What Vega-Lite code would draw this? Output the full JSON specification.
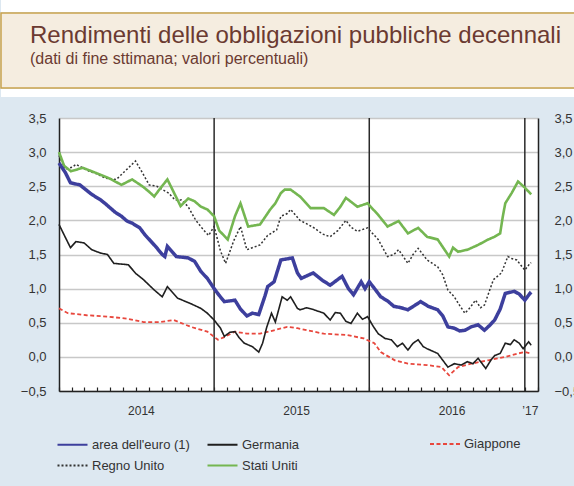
{
  "$schema": "https://vega.github.io/schema/vega-lite/v6.json",
  "background": "#dde8f1",
  "padding": {"left": 0, "top": 0, "right": 6, "bottom": 30},
  "config": {
    "view": {"stroke": null},
    "font": "Liberation Sans",
    "legend": {
      "labelFont": "Liberation Sans",
      "labelFontSize": 13,
      "labelColor": "#333333",
      "symbolType": "M-1.5,0H1.5",
      "symbolSize": 400,
      "labelOffset": 8,
      "padding": 0
    }
  },
  "resolve": {"legend": {"color": "independent", "stroke": "independent", "strokeDash": "independent"}},
  "concat": [
    {
      "width": 574,
      "height": 12,
      "view": {"fill": "white", "stroke": null},
      "data": {"values": [{"t": ""}]},
      "mark": {"type": "text", "fontSize": 1},
      "encoding": {"text": {"field": "t"}}
    },
    {
      "width": 574,
      "height": 75,
      "view": {"fill": "#f5ede0", "stroke": "#c9a24c", "strokeWidth": 1.5},
      "title": {
        "text": "Rendimenti delle obbligazioni pubbliche decennali",
        "subtitle": "(dati di fine sttimana; valori percentuali)",
        "anchor": "start",
        "frame": "group",
        "orient": "top",
        "offset": -54,
        "dx": 29,
        "font": "Liberation Sans",
        "fontSize": 24,
        "fontWeight": "normal",
        "color": "#6b3a31",
        "subtitleFont": "Liberation Sans",
        "subtitleFontSize": 16,
        "subtitleColor": "#6b3a31",
        "subtitlePadding": 3
      },
      "data": {"values": [{"t": ""}]},
      "mark": {"type": "text", "fontSize": 1},
      "encoding": {"text": {"field": "t"}}
    },
    {
      "width": 574,
      "height": 8,
      "view": {"fill": "white", "stroke": null},
      "data": {"values": [{"t": ""}]},
      "mark": {"type": "text", "fontSize": 1},
      "encoding": {"text": {"field": "t"}}
    },
    {
      "spacing": 0,
      "resolve": {"legend": {"color": "independent", "stroke": "independent", "strokeDash": "independent"}},
      "hconcat": [
        {
          "width": 1,
          "height": 1,
          "view": {"stroke": null},
          "data": {"values": [{"t": ""}]},
          "mark": {"type": "text", "fontSize": 1},
          "encoding": {"text": {"field": "t"}}
        },
        {
          "width": 479,
          "height": 273,
          "view": {"fill": "white", "stroke": null},
          "data": {"values": [
            {"s":"Regno Unito","d":"2014-01-01","v":2.95},{"s":"Regno Unito","d":"2014-01-16","v":2.75},{"s":"Regno Unito","d":"2014-02-01","v":2.78},{"s":"Regno Unito","d":"2014-02-10","v":2.82},{"s":"Regno Unito","d":"2014-03-13","v":2.72},{"s":"Regno Unito","d":"2014-04-01","v":2.68},{"s":"Regno Unito","d":"2014-04-19","v":2.62},{"s":"Regno Unito","d":"2014-05-16","v":2.60},{"s":"Regno Unito","d":"2014-06-10","v":2.75},{"s":"Regno Unito","d":"2014-06-30","v":2.87},{"s":"Regno Unito","d":"2014-07-16","v":2.70},{"s":"Regno Unito","d":"2014-08-01","v":2.52},{"s":"Regno Unito","d":"2014-08-19","v":2.50},{"s":"Regno Unito","d":"2014-09-16","v":2.40},{"s":"Regno Unito","d":"2014-10-01","v":2.30},{"s":"Regno Unito","d":"2014-10-16","v":2.30},{"s":"Regno Unito","d":"2014-11-01","v":2.20},{"s":"Regno Unito","d":"2014-11-19","v":2.00},{"s":"Regno Unito","d":"2014-12-07","v":1.86},{"s":"Regno Unito","d":"2014-12-19","v":1.78},{"s":"Regno Unito","d":"2015-01-01","v":1.91},{"s":"Regno Unito","d":"2015-01-16","v":1.55},{"s":"Regno Unito","d":"2015-01-28","v":1.37},{"s":"Regno Unito","d":"2015-02-16","v":1.70},{"s":"Regno Unito","d":"2015-03-04","v":1.91},{"s":"Regno Unito","d":"2015-03-19","v":1.57},{"s":"Regno Unito","d":"2015-04-19","v":1.64},{"s":"Regno Unito","d":"2015-05-07","v":1.78},{"s":"Regno Unito","d":"2015-05-28","v":1.86},{"s":"Regno Unito","d":"2015-06-07","v":2.06},{"s":"Regno Unito","d":"2015-06-22","v":2.10},{"s":"Regno Unito","d":"2015-06-30","v":2.16},{"s":"Regno Unito","d":"2015-07-22","v":2.00},{"s":"Regno Unito","d":"2015-08-07","v":1.95},{"s":"Regno Unito","d":"2015-08-24","v":1.89},{"s":"Regno Unito","d":"2015-09-13","v":1.80},{"s":"Regno Unito","d":"2015-10-01","v":1.76},{"s":"Regno Unito","d":"2015-10-19","v":1.85},{"s":"Regno Unito","d":"2015-11-07","v":2.00},{"s":"Regno Unito","d":"2015-11-19","v":1.90},{"s":"Regno Unito","d":"2015-12-04","v":1.84},{"s":"Regno Unito","d":"2015-12-28","v":1.89},{"s":"Regno Unito","d":"2016-01-10","v":1.80},{"s":"Regno Unito","d":"2016-01-22","v":1.72},{"s":"Regno Unito","d":"2016-02-13","v":1.47},{"s":"Regno Unito","d":"2016-02-28","v":1.50},{"s":"Regno Unito","d":"2016-03-10","v":1.57},{"s":"Regno Unito","d":"2016-04-01","v":1.37},{"s":"Regno Unito","d":"2016-04-13","v":1.50},{"s":"Regno Unito","d":"2016-04-25","v":1.59},{"s":"Regno Unito","d":"2016-05-16","v":1.42},{"s":"Regno Unito","d":"2016-06-10","v":1.32},{"s":"Regno Unito","d":"2016-06-22","v":1.20},{"s":"Regno Unito","d":"2016-07-04","v":0.98},{"s":"Regno Unito","d":"2016-07-19","v":0.88},{"s":"Regno Unito","d":"2016-08-01","v":0.75},{"s":"Regno Unito","d":"2016-08-13","v":0.64},{"s":"Regno Unito","d":"2016-08-25","v":0.72},{"s":"Regno Unito","d":"2016-09-07","v":0.83},{"s":"Regno Unito","d":"2016-09-19","v":0.72},{"s":"Regno Unito","d":"2016-09-28","v":0.76},{"s":"Regno Unito","d":"2016-10-19","v":1.13},{"s":"Regno Unito","d":"2016-11-07","v":1.23},{"s":"Regno Unito","d":"2016-11-22","v":1.47},{"s":"Regno Unito","d":"2016-12-01","v":1.44},{"s":"Regno Unito","d":"2016-12-13","v":1.42},{"s":"Regno Unito","d":"2017-01-01","v":1.27},{"s":"Regno Unito","d":"2017-01-13","v":1.37},{"s":"Regno Unito","d":"2017-01-16","v":1.38},
            {"s":"Germania","d":"2014-01-01","v":1.94},{"s":"Germania","d":"2014-01-16","v":1.75},{"s":"Germania","d":"2014-01-28","v":1.60},{"s":"Germania","d":"2014-02-10","v":1.69},{"s":"Germania","d":"2014-03-01","v":1.67},{"s":"Germania","d":"2014-03-19","v":1.57},{"s":"Germania","d":"2014-04-09","v":1.52},{"s":"Germania","d":"2014-04-25","v":1.50},{"s":"Germania","d":"2014-05-10","v":1.37},{"s":"Germania","d":"2014-06-13","v":1.35},{"s":"Germania","d":"2014-07-01","v":1.22},{"s":"Germania","d":"2014-07-19","v":1.13},{"s":"Germania","d":"2014-08-13","v":0.98},{"s":"Germania","d":"2014-09-01","v":0.88},{"s":"Germania","d":"2014-09-13","v":1.03},{"s":"Germania","d":"2014-10-07","v":0.86},{"s":"Germania","d":"2014-11-07","v":0.78},{"s":"Germania","d":"2014-12-01","v":0.71},{"s":"Germania","d":"2014-12-16","v":0.64},{"s":"Germania","d":"2015-01-01","v":0.54},{"s":"Germania","d":"2015-01-16","v":0.42},{"s":"Germania","d":"2015-01-25","v":0.30},{"s":"Germania","d":"2015-02-07","v":0.36},{"s":"Germania","d":"2015-02-19","v":0.37},{"s":"Germania","d":"2015-03-01","v":0.28},{"s":"Germania","d":"2015-03-13","v":0.20},{"s":"Germania","d":"2015-04-01","v":0.15},{"s":"Germania","d":"2015-04-16","v":0.07},{"s":"Germania","d":"2015-04-25","v":0.20},{"s":"Germania","d":"2015-05-05","v":0.44},{"s":"Germania","d":"2015-05-16","v":0.64},{"s":"Germania","d":"2015-05-25","v":0.51},{"s":"Germania","d":"2015-06-10","v":0.88},{"s":"Germania","d":"2015-06-22","v":0.83},{"s":"Germania","d":"2015-06-30","v":0.88},{"s":"Germania","d":"2015-07-16","v":0.71},{"s":"Germania","d":"2015-07-22","v":0.69},{"s":"Germania","d":"2015-08-07","v":0.72},{"s":"Germania","d":"2015-08-24","v":0.69},{"s":"Germania","d":"2015-09-16","v":0.64},{"s":"Germania","d":"2015-10-01","v":0.54},{"s":"Germania","d":"2015-10-13","v":0.65},{"s":"Germania","d":"2015-10-25","v":0.64},{"s":"Germania","d":"2015-11-07","v":0.52},{"s":"Germania","d":"2015-11-19","v":0.49},{"s":"Germania","d":"2015-12-04","v":0.64},{"s":"Germania","d":"2015-12-16","v":0.55},{"s":"Germania","d":"2015-12-28","v":0.59},{"s":"Germania","d":"2016-01-10","v":0.45},{"s":"Germania","d":"2016-01-22","v":0.34},{"s":"Germania","d":"2016-02-07","v":0.27},{"s":"Germania","d":"2016-02-22","v":0.25},{"s":"Germania","d":"2016-03-07","v":0.15},{"s":"Germania","d":"2016-03-19","v":0.20},{"s":"Germania","d":"2016-04-01","v":0.10},{"s":"Germania","d":"2016-04-13","v":0.20},{"s":"Germania","d":"2016-04-25","v":0.25},{"s":"Germania","d":"2016-05-07","v":0.15},{"s":"Germania","d":"2016-05-16","v":0.12},{"s":"Germania","d":"2016-06-10","v":0.05},{"s":"Germania","d":"2016-06-22","v":-0.05},{"s":"Germania","d":"2016-07-04","v":-0.15},{"s":"Germania","d":"2016-07-19","v":-0.10},{"s":"Germania","d":"2016-08-04","v":-0.12},{"s":"Germania","d":"2016-08-19","v":-0.07},{"s":"Germania","d":"2016-09-01","v":-0.10},{"s":"Germania","d":"2016-09-13","v":-0.02},{"s":"Germania","d":"2016-10-01","v":-0.17},{"s":"Germania","d":"2016-10-13","v":-0.05},{"s":"Germania","d":"2016-10-22","v":0.02},{"s":"Germania","d":"2016-11-04","v":0.05},{"s":"Germania","d":"2016-11-16","v":0.20},{"s":"Germania","d":"2016-11-28","v":0.18},{"s":"Germania","d":"2016-12-07","v":0.25},{"s":"Germania","d":"2016-12-19","v":0.20},{"s":"Germania","d":"2016-12-28","v":0.12},{"s":"Germania","d":"2017-01-10","v":0.22},{"s":"Germania","d":"2017-01-16","v":0.17},
            {"s":"Stati Uniti","d":"2014-01-01","v":3.00},{"s":"Stati Uniti","d":"2014-01-13","v":2.80},{"s":"Stati Uniti","d":"2014-01-29","v":2.72},{"s":"Stati Uniti","d":"2014-02-26","v":2.77},{"s":"Stati Uniti","d":"2014-03-27","v":2.70},{"s":"Stati Uniti","d":"2014-04-28","v":2.62},{"s":"Stati Uniti","d":"2014-05-16","v":2.56},{"s":"Stati Uniti","d":"2014-05-28","v":2.52},{"s":"Stati Uniti","d":"2014-06-22","v":2.60},{"s":"Stati Uniti","d":"2014-07-16","v":2.50},{"s":"Stati Uniti","d":"2014-08-01","v":2.42},{"s":"Stati Uniti","d":"2014-08-13","v":2.35},{"s":"Stati Uniti","d":"2014-08-25","v":2.45},{"s":"Stati Uniti","d":"2014-09-13","v":2.60},{"s":"Stati Uniti","d":"2014-09-25","v":2.45},{"s":"Stati Uniti","d":"2014-10-14","v":2.21},{"s":"Stati Uniti","d":"2014-11-01","v":2.32},{"s":"Stati Uniti","d":"2014-11-16","v":2.28},{"s":"Stati Uniti","d":"2014-12-01","v":2.20},{"s":"Stati Uniti","d":"2014-12-16","v":2.16},{"s":"Stati Uniti","d":"2015-01-01","v":2.06},{"s":"Stati Uniti","d":"2015-01-13","v":1.85},{"s":"Stati Uniti","d":"2015-02-02","v":1.72},{"s":"Stati Uniti","d":"2015-02-19","v":2.06},{"s":"Stati Uniti","d":"2015-03-04","v":2.25},{"s":"Stati Uniti","d":"2015-03-22","v":1.91},{"s":"Stati Uniti","d":"2015-04-19","v":1.94},{"s":"Stati Uniti","d":"2015-05-13","v":2.16},{"s":"Stati Uniti","d":"2015-05-25","v":2.25},{"s":"Stati Uniti","d":"2015-06-07","v":2.40},{"s":"Stati Uniti","d":"2015-06-16","v":2.45},{"s":"Stati Uniti","d":"2015-06-30","v":2.45},{"s":"Stati Uniti","d":"2015-07-22","v":2.35},{"s":"Stati Uniti","d":"2015-08-16","v":2.18},{"s":"Stati Uniti","d":"2015-09-16","v":2.18},{"s":"Stati Uniti","d":"2015-10-10","v":2.08},{"s":"Stati Uniti","d":"2015-10-25","v":2.20},{"s":"Stati Uniti","d":"2015-11-07","v":2.33},{"s":"Stati Uniti","d":"2015-12-04","v":2.20},{"s":"Stati Uniti","d":"2015-12-28","v":2.25},{"s":"Stati Uniti","d":"2016-01-22","v":2.08},{"s":"Stati Uniti","d":"2016-02-13","v":1.91},{"s":"Stati Uniti","d":"2016-03-10","v":1.99},{"s":"Stati Uniti","d":"2016-04-01","v":1.81},{"s":"Stati Uniti","d":"2016-04-25","v":1.89},{"s":"Stati Uniti","d":"2016-05-16","v":1.76},{"s":"Stati Uniti","d":"2016-06-10","v":1.72},{"s":"Stati Uniti","d":"2016-07-07","v":1.47},{"s":"Stati Uniti","d":"2016-07-16","v":1.60},{"s":"Stati Uniti","d":"2016-07-28","v":1.54},{"s":"Stati Uniti","d":"2016-08-19","v":1.57},{"s":"Stati Uniti","d":"2016-09-13","v":1.64},{"s":"Stati Uniti","d":"2016-10-07","v":1.72},{"s":"Stati Uniti","d":"2016-10-22","v":1.76},{"s":"Stati Uniti","d":"2016-11-04","v":1.81},{"s":"Stati Uniti","d":"2016-11-10","v":2.05},{"s":"Stati Uniti","d":"2016-11-16","v":2.25},{"s":"Stati Uniti","d":"2016-12-01","v":2.40},{"s":"Stati Uniti","d":"2016-12-16","v":2.57},{"s":"Stati Uniti","d":"2017-01-01","v":2.48},{"s":"Stati Uniti","d":"2017-01-16","v":2.38},
            {"s":"area dell'euro (1)","d":"2014-01-01","v":2.84},{"s":"area dell'euro (1)","d":"2014-01-16","v":2.70},{"s":"area dell'euro (1)","d":"2014-01-28","v":2.55},{"s":"area dell'euro (1)","d":"2014-02-19","v":2.52},{"s":"area dell'euro (1)","d":"2014-03-19","v":2.38},{"s":"area dell'euro (1)","d":"2014-04-09","v":2.30},{"s":"area dell'euro (1)","d":"2014-04-19","v":2.25},{"s":"area dell'euro (1)","d":"2014-05-13","v":2.12},{"s":"area dell'euro (1)","d":"2014-05-28","v":2.06},{"s":"area dell'euro (1)","d":"2014-06-10","v":1.99},{"s":"area dell'euro (1)","d":"2014-06-22","v":1.96},{"s":"area dell'euro (1)","d":"2014-07-10","v":1.89},{"s":"area dell'euro (1)","d":"2014-07-22","v":1.79},{"s":"area dell'euro (1)","d":"2014-08-16","v":1.62},{"s":"area dell'euro (1)","d":"2014-09-01","v":1.50},{"s":"area dell'euro (1)","d":"2014-09-07","v":1.47},{"s":"area dell'euro (1)","d":"2014-09-13","v":1.62},{"s":"area dell'euro (1)","d":"2014-10-04","v":1.47},{"s":"area dell'euro (1)","d":"2014-11-01","v":1.45},{"s":"area dell'euro (1)","d":"2014-11-16","v":1.40},{"s":"area dell'euro (1)","d":"2014-12-01","v":1.25},{"s":"area dell'euro (1)","d":"2014-12-16","v":1.15},{"s":"area dell'euro (1)","d":"2015-01-01","v":1.00},{"s":"area dell'euro (1)","d":"2015-01-13","v":0.90},{"s":"area dell'euro (1)","d":"2015-01-25","v":0.81},{"s":"area dell'euro (1)","d":"2015-02-19","v":0.83},{"s":"area dell'euro (1)","d":"2015-03-04","v":0.70},{"s":"area dell'euro (1)","d":"2015-03-19","v":0.60},{"s":"area dell'euro (1)","d":"2015-04-01","v":0.64},{"s":"area dell'euro (1)","d":"2015-04-16","v":0.62},{"s":"area dell'euro (1)","d":"2015-05-01","v":0.90},{"s":"area dell'euro (1)","d":"2015-05-07","v":1.03},{"s":"area dell'euro (1)","d":"2015-05-22","v":1.10},{"s":"area dell'euro (1)","d":"2015-06-07","v":1.42},{"s":"area dell'euro (1)","d":"2015-07-04","v":1.45},{"s":"area dell'euro (1)","d":"2015-07-16","v":1.23},{"s":"area dell'euro (1)","d":"2015-07-25","v":1.15},{"s":"area dell'euro (1)","d":"2015-08-22","v":1.23},{"s":"area dell'euro (1)","d":"2015-09-13","v":1.12},{"s":"area dell'euro (1)","d":"2015-10-01","v":1.05},{"s":"area dell'euro (1)","d":"2015-10-16","v":1.12},{"s":"area dell'euro (1)","d":"2015-10-29","v":1.18},{"s":"area dell'euro (1)","d":"2015-11-13","v":1.00},{"s":"area dell'euro (1)","d":"2015-11-25","v":0.91},{"s":"area dell'euro (1)","d":"2015-12-13","v":1.10},{"s":"area dell'euro (1)","d":"2015-12-22","v":1.00},{"s":"area dell'euro (1)","d":"2016-01-01","v":1.10},{"s":"area dell'euro (1)","d":"2016-01-16","v":0.98},{"s":"area dell'euro (1)","d":"2016-01-28","v":0.88},{"s":"area dell'euro (1)","d":"2016-02-13","v":0.82},{"s":"area dell'euro (1)","d":"2016-02-28","v":0.74},{"s":"area dell'euro (1)","d":"2016-03-16","v":0.72},{"s":"area dell'euro (1)","d":"2016-04-01","v":0.69},{"s":"area dell'euro (1)","d":"2016-04-16","v":0.75},{"s":"area dell'euro (1)","d":"2016-05-01","v":0.81},{"s":"area dell'euro (1)","d":"2016-05-19","v":0.74},{"s":"area dell'euro (1)","d":"2016-06-10","v":0.69},{"s":"area dell'euro (1)","d":"2016-06-22","v":0.60},{"s":"area dell'euro (1)","d":"2016-07-04","v":0.44},{"s":"area dell'euro (1)","d":"2016-07-19","v":0.42},{"s":"area dell'euro (1)","d":"2016-08-01","v":0.38},{"s":"area dell'euro (1)","d":"2016-08-13","v":0.39},{"s":"area dell'euro (1)","d":"2016-08-28","v":0.44},{"s":"area dell'euro (1)","d":"2016-09-13","v":0.47},{"s":"area dell'euro (1)","d":"2016-09-28","v":0.39},{"s":"area dell'euro (1)","d":"2016-10-10","v":0.46},{"s":"area dell'euro (1)","d":"2016-10-22","v":0.54},{"s":"area dell'euro (1)","d":"2016-11-04","v":0.70},{"s":"area dell'euro (1)","d":"2016-11-16","v":0.93},{"s":"area dell'euro (1)","d":"2016-12-07","v":0.96},{"s":"area dell'euro (1)","d":"2016-12-19","v":0.92},{"s":"area dell'euro (1)","d":"2017-01-01","v":0.83},{"s":"area dell'euro (1)","d":"2017-01-13","v":0.93},{"s":"area dell'euro (1)","d":"2017-01-16","v":0.91},
            {"s":"Giappone","d":"2014-01-01","v":0.71},{"s":"Giappone","d":"2014-01-22","v":0.64},{"s":"Giappone","d":"2014-03-07","v":0.61},{"s":"Giappone","d":"2014-04-25","v":0.59},{"s":"Giappone","d":"2014-06-10","v":0.56},{"s":"Giappone","d":"2014-07-19","v":0.51},{"s":"Giappone","d":"2014-08-28","v":0.51},{"s":"Giappone","d":"2014-09-28","v":0.54},{"s":"Giappone","d":"2014-11-07","v":0.44},{"s":"Giappone","d":"2014-12-16","v":0.37},{"s":"Giappone","d":"2015-01-10","v":0.25},{"s":"Giappone","d":"2015-01-25","v":0.29},{"s":"Giappone","d":"2015-02-19","v":0.37},{"s":"Giappone","d":"2015-03-19","v":0.34},{"s":"Giappone","d":"2015-04-19","v":0.34},{"s":"Giappone","d":"2015-05-22","v":0.39},{"s":"Giappone","d":"2015-06-22","v":0.44},{"s":"Giappone","d":"2015-07-16","v":0.42},{"s":"Giappone","d":"2015-08-07","v":0.39},{"s":"Giappone","d":"2015-09-16","v":0.34},{"s":"Giappone","d":"2015-11-10","v":0.32},{"s":"Giappone","d":"2015-12-19","v":0.27},{"s":"Giappone","d":"2016-01-13","v":0.20},{"s":"Giappone","d":"2016-01-28","v":0.07},{"s":"Giappone","d":"2016-03-01","v":-0.05},{"s":"Giappone","d":"2016-04-01","v":-0.10},{"s":"Giappone","d":"2016-05-16","v":-0.12},{"s":"Giappone","d":"2016-06-19","v":-0.15},{"s":"Giappone","d":"2016-07-07","v":-0.27},{"s":"Giappone","d":"2016-07-28","v":-0.15},{"s":"Giappone","d":"2016-08-28","v":-0.10},{"s":"Giappone","d":"2016-10-07","v":-0.05},{"s":"Giappone","d":"2016-11-16","v":0.00},{"s":"Giappone","d":"2016-12-16","v":0.05},{"s":"Giappone","d":"2017-01-01","v":0.07},{"s":"Giappone","d":"2017-01-16","v":0.05}
          ]},
          "encoding": {
            "x": {
              "field": "d",
              "type": "temporal",
              "title": null,
              "scale": {"type": "utc", "domain": [{"year": 2014, "month": 1, "date": 1, "utc": true}, {"year": 2017, "month": 2, "date": 1, "utc": true}], "nice": false},
              "axis": {
                "title": null,
                "tickCount": {"interval": "month", "step": 1},
                "ticks": true,
                "tickSize": -4,
                "tickWidth": 1.2,
                "tickColor": "#222222",
                "domainColor": "#222222",
                "domainWidth": 1.5,
                "grid": false,
                "labelExpr": "utcmonth(datum.value) == 6 ? utcFormat(datum.value, '%Y') : ((utcyear(datum.value) == 2017 && utcmonth(datum.value) == 0) ? '\u201917' : '')",
                "labelOffset": 5,
                "labelPadding": 18,
                "labelFontSize": 12,
                "labelColor": "#333333",
                "labelOverlap": false,
                "labelFlush": false,
                "labelBound": false
              }
            }
          },
          "layer": [
            {
              "data": {"values": [{"d": "2015-01-01"}, {"d": "2016-01-01"}, {"d": "2017-01-01"}]},
              "mark": {"type": "rule", "color": "#2a2a2a", "strokeWidth": 1.5},
              "encoding": {}
            },
            {
              "transform": [{"filter": {"field": "s", "equal": "Giappone"}}],
              "mark": {"type": "line", "strokeDash": [4, 2.5], "strokeWidth": 1.8},
              "encoding": {
                "y": {
                  "field": "v",
                  "type": "quantitative",
                  "scale": {"domain": [-0.5, 3.5], "nice": false, "zero": false},
                  "axis": {
                    "orient": "right",
                    "title": null,
                    "values": [-0.5, 0, 0.5, 1, 1.5, 2, 2.5, 3, 3.5],
                    "grid": false,
                    "domainColor": "#222222",
                    "domainWidth": 1.5,
                    "ticks": false,
                    "labelPadding": 16,
                    "labelFontSize": 13,
                    "labelColor": "#333333",
                    "labelExpr": "replace(format(datum.value, '.1f'), '.', ',')",
                    "labelFlush": false,
                    "labelOverlap": false
                  }
                },
                "stroke": {
                  "field": "s",
                  "type": "nominal",
                  "scale": {"domain": ["Giappone"], "range": ["#e8473d"]},
                  "legend": {"orient": "none", "legendX": 375, "legendY": 315, "title": null, "symbolDash": [4, 2.5], "symbolStrokeWidth": 1.8}
                }
              }
            },
            {
              "encoding": {
                "y": {
                  "field": "v",
                  "type": "quantitative",
                  "scale": {"domain": [-0.5, 3.5], "nice": false, "zero": false},
                  "axis": {
                    "orient": "left",
                    "values": [-0.5, 0, 0.5, 1, 1.5, 2, 2.5, 3, 3.5],
                    "grid": true,
                    "gridColor": "#c8c8c8",
                    "gridWidth": 1.5,
                    "domainColor": "#222222",
                    "domainWidth": 1.5,
                    "ticks": false,
                    "labelPadding": 13,
                    "labelFontSize": 13,
                    "labelColor": "#333333",
                    "labelExpr": "replace(format(datum.value, '.1f'), '.', ',')",
                    "labelFlush": false,
                    "labelOverlap": false,
                    "title": "\u00a0",
                    "titleColor": "transparent",
                    "titleX": -57,
                    "titleY": -21,
                    "titleAngle": 0,
                    "titleAlign": "left",
                    "titleBaseline": "top",
                    "titleFontSize": 10
                  }
                },
                "color": {
                  "field": "s",
                  "type": "nominal",
                  "scale": {"domain": ["area dell'euro (1)", "Regno Unito", "Germania", "Stati Uniti"], "range": ["#3d3f9d", "#333333", "#1f1f1f", "#74b651"]},
                  "legend": {"orient": "none", "legendX": 2, "legendY": 315, "title": null, "columns": 2, "columnPadding": 13, "rowPadding": 2, "symbolStrokeWidth": 2.2}
                },
                "strokeDash": {
                  "field": "s",
                  "type": "nominal",
                  "scale": {"domain": ["area dell'euro (1)", "Regno Unito", "Germania", "Stati Uniti"], "range": [[1, 0], [2, 2], [1, 0], [1, 0]]},
                  "legend": {"orient": "none", "legendX": 2, "legendY": 315, "title": null, "columns": 2, "columnPadding": 13, "rowPadding": 2, "symbolStrokeWidth": 2.2}
                }
              },
              "layer": [
                {"transform": [{"filter": {"field": "s", "equal": "Regno Unito"}}], "mark": {"type": "line", "strokeWidth": 1.5}, "encoding": {}},
                {"transform": [{"filter": {"field": "s", "equal": "Germania"}}], "mark": {"type": "line", "strokeWidth": 1.6}, "encoding": {}},
                {"transform": [{"filter": {"field": "s", "equal": "Stati Uniti"}}], "mark": {"type": "line", "strokeWidth": 2.6}, "encoding": {}},
                {"transform": [{"filter": {"field": "s", "equal": "area dell'euro (1)"}}], "mark": {"type": "line", "strokeWidth": 3.5}, "encoding": {}}
              ]
            }
          ],
          "resolve": {"axis": {"y": "independent"}}
        }
      ]
    }
  ],
  "columns": 1,
  "spacing": 0,
  "align": "none"
}
